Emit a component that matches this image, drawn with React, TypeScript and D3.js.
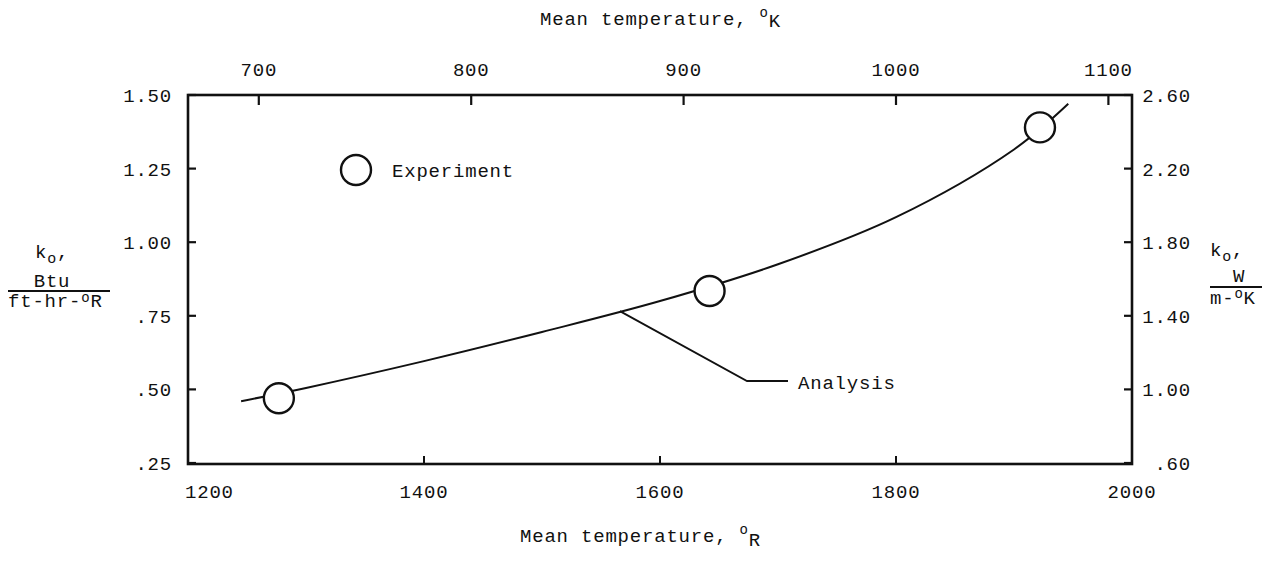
import React from "react";
import * as d3 from "d3";

// Analysis curve (Rankine, Btu/ft-hr-R)
const curveR = [1245, 1300, 1400, 1500, 1600, 1700, 1800, 1900, 1946];
const curveK = [0.46, 0.505, 0.596, 0.695, 0.8, 0.925, 1.085, 1.315, 1.47];
// Experiment points
const expR = [1277, 1642, 1922];
const expK = [0.47, 0.834, 1.39];
// ticks
const bottomTicks = [1200, 1400, 1600, 1800, 2000];
const topTicks = [700, 800, 900, 1000, 1100];
const leftTicks = [0.25, 0.5, 0.75, 1.0, 1.25, 1.5];
const leftTickLabels = [".25", ".50", ".75", "1.00", "1.25", "1.50"];
const rightTicks = [0.6, 1.0, 1.4, 1.8, 2.2, 2.6];
const rightTickLabels = [".60", "1.00", "1.40", "1.80", "2.20", "2.60"];
const analysisAnchor = { R: 1566, k: 0.766 };

const FONT = "'Liberation Mono', 'DejaVu Sans Mono', monospace";

export default function App() {
  const L = 188, Rr = 1132, T = 95, B = 463;
  const xR = d3.scaleLinear().domain([1200, 2000]).range([L, Rr]);
  const xK = d3.scaleLinear().domain([1200 / 1.8, 2000 / 1.8]).range([L, Rr]);
  const yL = d3.scaleLinear().domain([0.25, 1.5]).range([B, T]);
  const yRt = d3.scaleLinear().domain([0.6, 2.6]).range([B, T]);

  const line = d3
    .line<number>()
    .x((_, i) => xR(curveR[i]))
    .y((d) => yL(d))
    .curve(d3.curveCatmullRom.alpha(0.5));
  const path = line(curveK) || "";

  const ts = { fontFamily: FONT, fontSize: 19, letterSpacing: 0.8, fill: "#111" } as const;
  const ax = xR(analysisAnchor.R), ay = yL(analysisAnchor.k);

  return (
    <svg
      width={1275}
      height={565}
      style={{ position: "absolute", left: 0, top: 0, background: "#fff" }}
    >
      <rect x={0} y={0} width={1275} height={565} fill="#fff" />
      {/* frame */}
      <rect x={L} y={T} width={Rr - L} height={B - T + 1} fill="none" stroke="#111" strokeWidth={2.6} />
      {/* left ticks */}
      {leftTicks.map((v, i) => (
        <g key={"l" + i}>
          <line x1={L} x2={L + 8} y1={yL(v)} y2={yL(v)} stroke="#111" strokeWidth={2.2} />
          <text {...ts} x={172} y={yL(v) + 7} textAnchor="end">{leftTickLabels[i]}</text>
        </g>
      ))}
      {/* right ticks */}
      {rightTicks.map((v, i) => (
        <g key={"r" + i}>
          <line x1={Rr - 8} x2={Rr} y1={yRt(v)} y2={yRt(v)} stroke="#111" strokeWidth={2.2} />
          <text {...ts} x={1191} y={yRt(v) + 7} textAnchor="end">{rightTickLabels[i]}</text>
        </g>
      ))}
      {/* bottom ticks */}
      {bottomTicks.map((v, i) => (
        <g key={"b" + i}>
          <line x1={xR(v)} x2={xR(v)} y1={B} y2={B - 7} stroke="#111" strokeWidth={2} />
          <text
            {...ts}
            x={i === 0 ? xR(v) - 3 : xR(v)}
            y={498}
            textAnchor={i === 0 ? "start" : "middle"}
          >
            {v}
          </text>
        </g>
      ))}
      {/* top ticks */}
      {topTicks.map((v, i) => (
        <g key={"t" + i}>
          <line x1={xK(v)} x2={xK(v)} y1={T} y2={T + 10} stroke="#111" strokeWidth={2.2} />
          <text {...ts} x={xK(v)} y={76} textAnchor="middle">{v}</text>
        </g>
      ))}
      {/* analysis curve */}
      <path d={path} fill="none" stroke="#111" strokeWidth={2} />
      {/* experiment points */}
      {expR.map((r, i) => (
        <circle key={"e" + i} cx={xR(r)} cy={yL(expK[i])} r={15} fill="#fff" stroke="#111" strokeWidth={2.4} />
      ))}
      {/* legend */}
      <circle cx={356} cy={170} r={15} fill="#fff" stroke="#111" strokeWidth={2.4} />
      <text {...ts} x={392} y={177}>Experiment</text>
      {/* analysis leader */}
      <polyline
        points={`${ax},${ay} 747,381 788,381`}
        fill="none"
        stroke="#111"
        strokeWidth={1.8}
      />
      <text {...ts} x={798} y={389}>Analysis</text>

      {/* top title */}
      <text {...ts} x={540} y={25}>
        Mean temperature,
        <tspan dx={12} dy={-8} fontSize={14}>o</tspan>
        <tspan dy={10}>K</tspan>
      </text>
      {/* bottom title */}
      <text {...ts} x={520} y={542}>
        Mean temperature,
        <tspan dx={12} dy={-8} fontSize={14}>o</tspan>
        <tspan dy={12}>R</tspan>
      </text>

      {/* left axis title */}
      <text {...ts} x={35} y={258}>
        k<tspan dy={5} fontSize={15}>o</tspan><tspan dy={-5}>,</tspan>
      </text>
      <text {...ts} x={52} y={287} textAnchor="middle">Btu</text>
      <line x1={8} x2={110} y1={291} y2={291} stroke="#111" strokeWidth={1.8} />
      <text {...ts} x={8} y={307}>
        ft-hr-<tspan dy={-5} fontSize={14}>o</tspan><tspan dy={5}>R</tspan>
      </text>

      {/* right axis title */}
      <text {...ts} x={1210} y={256}>
        k<tspan dy={5} fontSize={15}>o</tspan><tspan dy={-5}>,</tspan>
      </text>
      <text {...ts} x={1239} y={282} textAnchor="middle">W</text>
      <line x1={1210} x2={1262} y1={287} y2={287} stroke="#111" strokeWidth={1.8} />
      <text {...ts} x={1210} y={304}>
        m-<tspan dy={-6} fontSize={14}>o</tspan><tspan dy={6}>K</tspan>
      </text>
    </svg>
  );
}
